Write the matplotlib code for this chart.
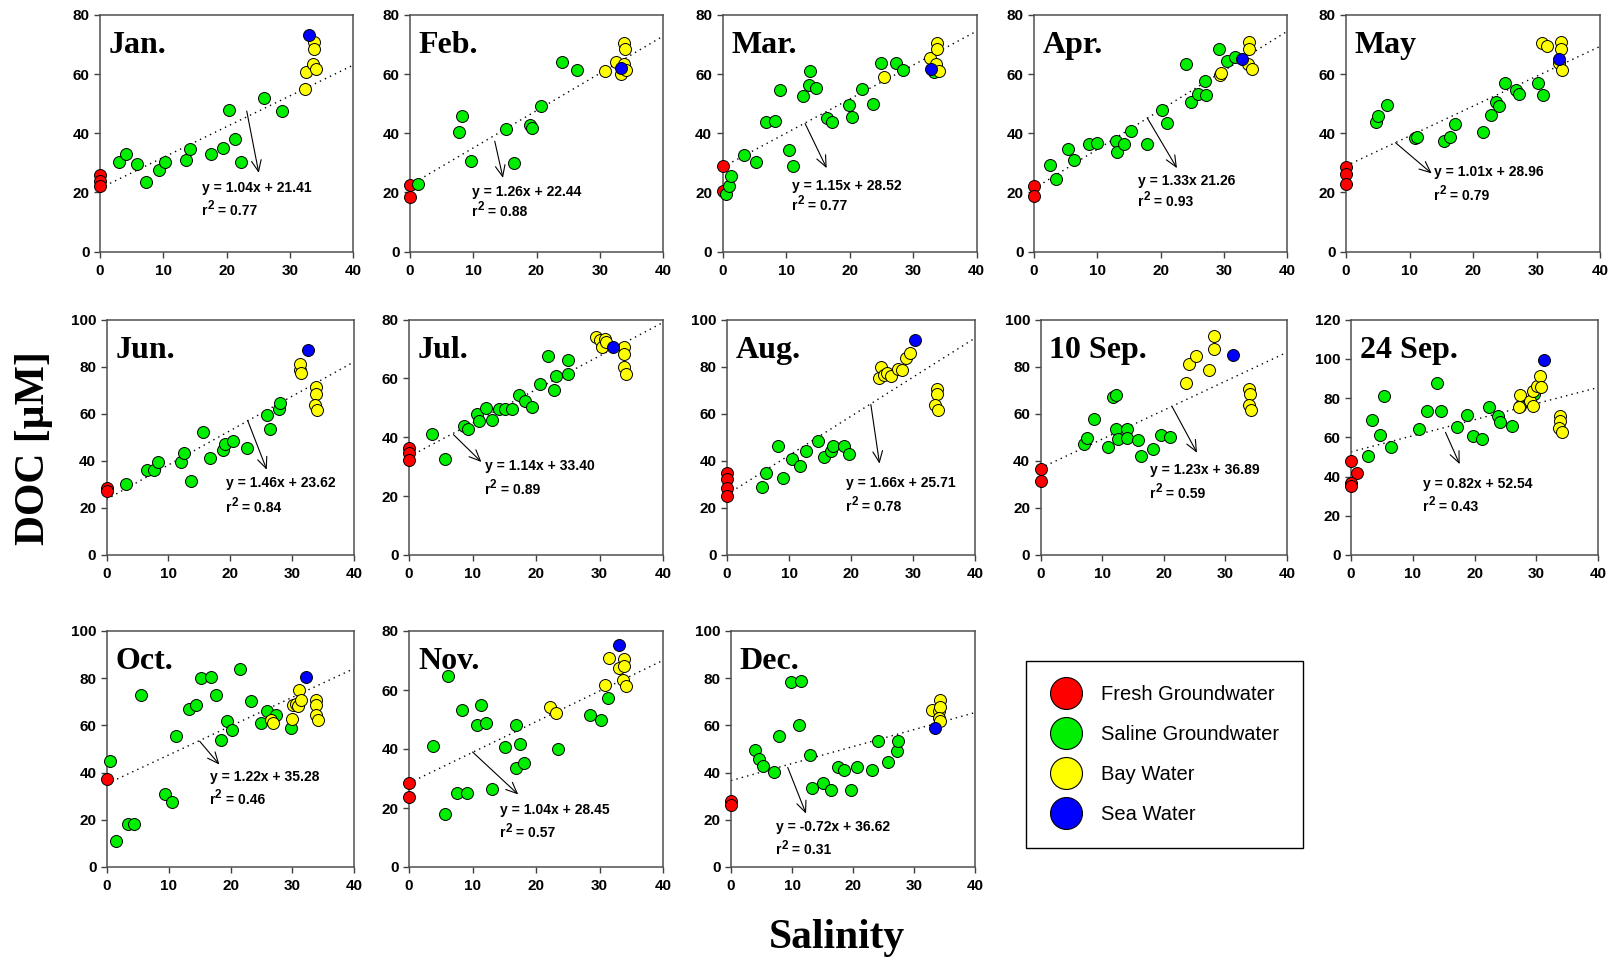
import numpy as np
import matplotlib.pyplot as plt
from matplotlib.lines import Line2D
from matplotlib.transforms import offset_copy

plt.rcParams['font.family'] = ['Liberation Sans', 'DejaVu Sans']

# (salinity, DOC) pairs for each water type and sampling date
jan_fresh = [(0, 26.0), (0, 23.7), (0, 22.0)]
jan_saline = [(3.0, 30.3), (4.1, 33.0), (5.9, 29.6), (7.3, 23.5), (9.3, 27.7), (10.2, 30.2),
              (13.6, 31.1), (14.3, 34.6), (17.5, 33.1), (19.4, 35.0), (20.4, 48.0), (21.4, 38.1),
              (22.3, 30.2), (26.0, 51.8), (28.8, 47.6)]
jan_bay = [(32.4, 55.1), (32.5, 60.7), (33.7, 63.3), (33.8, 70.7), (33.9, 68.4), (34.2, 61.6)]
jan_sea = [(33.0, 73.4)]

feb_fresh = [(0, 22.4), (0, 18.6)]
feb_saline = [(1.2, 22.8), (7.7, 40.3), (8.3, 46.0), (9.7, 30.5), (15.1, 41.5), (16.4, 29.9),
              (18.9, 42.9), (19.3, 41.9), (20.7, 49.2), (24.1, 64.2), (26.4, 61.4)]
feb_bay = [(30.8, 61.0), (32.5, 64.2), (33.4, 59.9), (33.8, 63.3), (33.9, 70.6), (34.0, 68.4), (34.2, 61.4)]
feb_sea = [(33.4, 62.1)]

mar_fresh = [(0, 28.8), (0, 20.3)]
mar_saline = [(0.5, 19.4), (1.0, 22.3), (1.4, 25.6), (3.4, 32.5), (5.3, 30.3), (6.8, 43.8),
              (8.3, 44.1), (9.0, 54.6), (10.4, 34.2), (11.1, 29.0), (12.7, 52.5), (13.6, 56.2),
              (13.8, 61.2), (14.7, 55.4), (16.5, 45.0), (17.2, 43.8), (19.9, 49.5), (20.4, 45.5),
              (21.9, 55.1), (23.7, 49.9), (24.9, 63.6), (27.4, 63.6), (28.5, 61.4), (33.3, 60.7)]
mar_bay = [(25.4, 59.0), (32.7, 65.5), (33.7, 63.3), (33.8, 70.6), (33.8, 68.4), (34.1, 61.2)]
mar_sea = [(32.8, 61.8)]

apr_fresh = [(0, 22.3), (0, 18.9)]
apr_saline = [(2.5, 29.4), (3.4, 24.6), (5.4, 34.7), (6.4, 31.1), (8.7, 36.4), (9.9, 36.7),
              (12.9, 37.5), (13.1, 33.6), (14.3, 36.5), (15.4, 40.7), (17.8, 36.5), (20.2, 47.8),
              (21.1, 43.3), (24.1, 63.3), (24.9, 50.6), (25.9, 53.3), (27.1, 57.6), (27.2, 53.1),
              (29.2, 68.6), (30.5, 64.6), (31.8, 65.8)]
apr_bay = [(29.4, 59.8), (29.6, 60.3), (33.8, 63.3), (34.0, 70.8), (34.0, 68.4), (34.4, 61.6)]
apr_sea = [(32.9, 65.2)]

may_fresh = [(0, 28.6), (0, 26.1), (0, 22.7)]
may_saline = [(4.8, 43.8), (5.0, 45.8), (6.5, 49.4), (10.9, 38.5), (11.2, 38.7), (15.5, 37.4),
              (16.3, 38.6), (17.2, 43.2), (21.5, 40.5), (22.9, 46.3), (23.7, 50.7), (24.1, 49.1),
              (25.1, 56.9), (26.8, 54.6), (27.2, 53.2), (30.2, 57.1), (31.0, 52.8)]
may_bay = [(30.9, 70.4), (31.6, 69.5), (33.9, 70.7), (33.9, 68.4), (33.6, 63.6), (34.0, 61.4)]
may_sea = [(33.6, 65.0)]

jun_fresh = [(0, 28.5), (0, 27.0)]
jun_saline = [(3.2, 30.2), (6.6, 36.2), (7.7, 36.2), (8.4, 39.3), (12.0, 39.7), (12.6, 43.5),
              (13.7, 31.6), (15.6, 52.1), (16.7, 41.1), (18.9, 44.7), (19.1, 47.1), (20.5, 48.2),
              (22.7, 45.4), (26.0, 59.6), (26.5, 53.5), (27.8, 62.0), (28.1, 64.5)]
jun_bay = [(31.2, 78.7), (31.3, 81.3), (31.4, 77.3), (33.8, 71.2), (33.9, 68.5), (33.7, 63.8), (34.1, 61.7)]
jun_sea = [(32.5, 87.2)]

jul_fresh = [(0, 36.5), (0, 34.7), (0, 32.2)]
jul_saline = [(3.7, 41.2), (5.7, 32.5), (8.7, 43.8), (9.3, 42.7), (10.7, 48.0), (11.1, 45.6),
              (12.1, 50.0), (13.0, 45.8), (14.1, 49.7), (15.1, 49.5), (16.2, 49.5), (17.3, 54.5),
              (18.3, 52.2), (19.4, 50.3), (20.6, 58.2), (21.9, 67.5), (22.8, 55.9), (23.2, 60.7),
              (25.0, 61.6), (25.1, 66.4)]
jul_bay = [(29.5, 74.2), (30.0, 73.1), (30.4, 70.6), (30.9, 73.4), (31.1, 72.3), (33.9, 70.6),
           (33.9, 68.4), (33.8, 63.8), (34.1, 61.6)]
jul_sea = [(32.1, 70.8)]

aug_fresh = [(0, 34.9), (0, 32.1), (0, 28.6), (0, 25.0)]
aug_saline = [(5.6, 29.0), (6.3, 34.9), (8.3, 46.3), (9.0, 32.8), (10.5, 40.9), (11.8, 37.8),
              (12.8, 44.1), (14.6, 48.4), (15.6, 41.6), (16.8, 44.1), (17.1, 46.3), (18.8, 46.3),
              (19.6, 42.7)]
aug_bay = [(24.5, 75.0), (24.8, 79.8), (25.3, 76.4), (25.8, 77.4), (26.4, 76.0), (27.6, 78.8),
           (28.3, 78.4), (28.8, 83.7), (29.5, 85.6), (33.8, 70.6), (33.8, 68.2), (33.5, 63.5), (34.0, 61.4)]
aug_sea = [(30.4, 91.2)]

sep10_fresh = [(0, 36.6), (0, 31.4)]
sep10_saline = [(7.0, 47.2), (7.5, 49.5), (8.7, 57.6), (10.9, 45.8), (11.7, 67.2), (12.3, 67.9),
                (12.2, 53.7), (12.6, 49.1), (14.0, 53.7), (14.1, 49.5), (15.8, 48.7), (16.3, 42.0),
                (18.3, 45.1), (19.6, 50.9), (21.0, 50.2)]
sep10_bay = [(23.6, 73.1), (24.1, 81.2), (25.2, 84.7), (27.3, 78.4), (28.2, 92.9), (28.2, 87.3),
             (33.9, 70.7), (34.0, 68.5), (33.8, 63.9), (34.2, 61.4)]
sep10_sea = [(31.2, 85.1)]

sep24_fresh = [(0, 48.0), (1.0, 41.7), (0, 36.6), (0, 35.4)]
sep24_saline = [(2.8, 50.2), (3.4, 68.6), (4.7, 61.3), (5.4, 80.9), (6.5, 55.0), (11.0, 64.2),
                (12.3, 73.5), (13.9, 87.5), (14.6, 73.5), (17.1, 65.2), (18.8, 71.5), (19.7, 60.8),
                (21.2, 59.1), (22.4, 75.4), (23.8, 71.0), (24.1, 67.7), (26.0, 65.5), (27.4, 75.7),
                (29.6, 82.0)]
sep24_bay = [(27.2, 75.4), (27.4, 81.4), (29.0, 78.3), (29.5, 75.7), (29.5, 83.7), (30.1, 86.0),
             (30.6, 91.4), (30.7, 85.4), (33.8, 71.0), (33.9, 68.4), (33.7, 64.7), (34.1, 62.5)]
sep24_sea = [(31.2, 99.2)]

oct_fresh = [(0, 37.1)]
oct_saline = [(0.5, 45.1), (1.4, 11.2), (3.4, 18.4), (4.4, 18.4), (5.5, 73.0), (9.4, 31.1),
              (10.5, 27.6), (11.1, 55.7), (13.2, 66.8), (14.4, 68.5), (15.2, 80.2), (16.8, 80.5),
              (17.6, 73.0), (18.5, 53.7), (19.4, 61.8), (20.3, 58.0), (21.5, 83.7), (23.3, 70.3),
              (24.9, 61.1), (25.9, 66.3), (27.4, 64.2), (29.8, 59.0)]
oct_bay = [(26.6, 62.1), (26.9, 61.1), (30.0, 62.9), (30.2, 68.5), (30.6, 68.9), (30.9, 68.2),
           (31.1, 75.2), (31.4, 70.6), (33.9, 70.6), (33.9, 68.5), (33.8, 64.4), (34.1, 62.1)]
oct_sea = [(32.2, 80.6)]

nov_fresh = [(0, 28.5), (0, 23.7)]
nov_saline = [(3.8, 40.9), (5.6, 17.8), (6.2, 64.6), (7.6, 25.1), (8.3, 53.3), (9.1, 25.1),
              (10.7, 48.0), (11.4, 55.0), (12.1, 48.8), (13.0, 26.6), (15.1, 40.6), (16.9, 48.2),
              (16.9, 33.4), (17.5, 41.8), (18.1, 35.3), (23.5, 40.0), (28.5, 51.6), (30.2, 49.9),
              (31.4, 57.2)]
nov_bay = [(22.2, 54.4), (23.2, 52.2), (30.9, 61.7), (31.5, 71.0), (33.1, 67.6), (33.9, 70.4),
           (33.9, 68.2), (33.7, 63.4), (34.1, 61.4)]
nov_sea = [(33.1, 75.3)]

dec_fresh = [(0, 28.0), (0, 26.3)]
dec_saline = [(3.9, 49.6), (4.6, 45.7), (5.2, 43.0), (7.1, 40.4), (7.9, 55.7), (9.8, 78.3),
              (11.5, 78.7), (11.1, 60.0), (12.9, 47.4), (13.2, 33.5), (15.0, 35.7), (16.4, 32.6),
              (17.6, 42.2), (18.6, 41.3), (19.6, 32.6), (20.6, 42.2), (23.1, 40.9), (24.1, 53.5),
              (25.7, 44.3), (27.2, 49.1), (27.3, 53.5)]
dec_bay = [(32.9, 66.5), (34.1, 66.1), (34.3, 70.9), (34.3, 67.8), (34.1, 63.0), (34.3, 61.7)]
dec_sea = [(33.4, 58.7)]

months = ['Jan.', 'Feb.', 'Mar.', 'Apr.', 'May', 'Jun.', 'Jul.', 'Aug.',
          '10 Sep.', '24 Sep.', 'Oct.', 'Nov.', 'Dec.']
fresh = [jan_fresh, feb_fresh, mar_fresh, apr_fresh, may_fresh, jun_fresh, jul_fresh,
         aug_fresh, sep10_fresh, sep24_fresh, oct_fresh, nov_fresh, dec_fresh]
saline = [jan_saline, feb_saline, mar_saline, apr_saline, may_saline, jun_saline, jul_saline,
          aug_saline, sep10_saline, sep24_saline, oct_saline, nov_saline, dec_saline]
bay = [jan_bay, feb_bay, mar_bay, apr_bay, may_bay, jun_bay, jul_bay,
       aug_bay, sep10_bay, sep24_bay, oct_bay, nov_bay, dec_bay]
sea = [jan_sea, feb_sea, mar_sea, apr_sea, may_sea, jun_sea, jul_sea,
       aug_sea, sep10_sea, sep24_sea, oct_sea, nov_sea, dec_sea]

# regression lines
slopes = [1.04, 1.26, 1.15, 1.33, 1.01, 1.46, 1.14, 1.66, 1.23, 0.82, 1.22, 1.04, 0.72]
intercepts = [21.41, 22.44, 28.52, 21.26, 28.96, 23.62, 33.40, 25.71, 36.89, 52.54, 35.28, 28.45, 36.62]
r2 = [0.77, 0.88, 0.77, 0.93, 0.79, 0.84, 0.89, 0.78, 0.59, 0.43, 0.46, 0.57, 0.31]
eq_labels = ['y = 1.04x + 21.41', 'y = 1.26x + 22.44', 'y = 1.15x + 28.52', 'y = 1.33x 21.26',
             'y = 1.01x + 28.96', 'y = 1.46x + 23.62', 'y = 1.14x + 33.40', 'y = 1.66x + 25.71',
             'y = 1.23x + 36.89', 'y = 0.82x + 52.54', 'y = 1.22x + 35.28', 'y = 1.04x + 28.45',
             'y = -0.72x + 36.62']
y_max = [80, 80, 80, 80, 80, 100, 80, 100, 100, 120, 100, 80, 100]

group_names = ['Fresh Groundwater', 'Saline Groundwater', 'Bay Water', 'Sea Water']
group_colors = ['#ff0000', '#00ee00', '#ffff00', '#0000ff']

# layout: axes boxes in pixels (left, top, right, bottom)
W, H = 1617, 960
boxes = [(100, 15, 353, 251.5), (410, 15, 663, 251.5), (722.5, 15, 976.5, 251.5),
         (1034, 15, 1287, 251.5), (1346, 15, 1600, 251.5),
         (106.5, 319.5, 354, 555), (409, 319.5, 663, 555), (727, 319.5, 975, 555),
         (1040.5, 319.5, 1287, 555), (1351, 319.5, 1598, 555),
         (107, 631, 354, 867), (409, 631, 663, 867), (731, 631, 975, 867)]
# equation text (x, y of first line, y of second line) and arrow (start, end) in data units
eq_pos = [(16.1, 21.5, 13.6), (9.8, 20.1, 13.3), (10.9, 22.0, 15.3), (16.5, 23.7, 16.9),
          (13.8, 26.9, 18.7), (19.3, 30.5, 20.1), (11.9, 30.2, 22.0), (19.2, 30.4, 20.4),
          (17.7, 36.1, 26.0), (11.7, 36.3, 24.3), (16.6, 38.2, 28.6), (14.3, 19.2, 11.4),
          (7.4, 17.0, 7.0)]
arrows = [((23.2, 47.5), (25.1, 26.6)), ((13.4, 37.3), (14.7, 24.9)), ((13.0, 43.3), (16.4, 28.2)),
          ((17.9, 45.2), (22.6, 28.2)), ((7.8, 36.8), (13.5, 26.4)), ((22.8, 57.2), (25.9, 36.2)),
          ((7.0, 40.9), (11.4, 31.6)), ((23.2, 63.9), (24.6, 38.8)), ((21.4, 62.8), (25.4, 43.4)),
          ((15.3, 62.5), (17.6, 46.3)), ((15.0, 53.3), (18.2, 43.4)), ((10.0, 39.0), (17.2, 24.6)),
          ((9.3, 42.2), (12.3, 22.6))]

eq_size = 10
fig = plt.figure(figsize=(W / 100, H / 100), dpi=100)
xs = np.array([0, 40])

for i, name in enumerate(months):
    l, t, r, b = boxes[i]
    ax = fig.add_axes([l / W, 1 - b / H, (r - l) / W, (b - t) / H])

    ax.plot(xs, intercepts[i] + slopes[i] * xs, color='black', ls=(0, (1, 3)), lw=1.0, zorder=1)

    for pts, c in zip([fresh[i], saline[i], bay[i], sea[i]], group_colors):
        p = np.array(pts)
        ax.scatter(p[:, 0], p[:, 1], s=74, c=c, edgecolors='black', linewidths=0.7,
                   zorder=3, clip_on=False)

    ex, ey1, ey2 = eq_pos[i]
    ax.text(ex, ey1, eq_labels[i], fontsize=eq_size, fontweight='bold', va='center', ha='left')
    # r^2 line: "r", a raised "2", then the value
    ax.text(ex, ey2, 'r', fontsize=eq_size, fontweight='bold', va='center', ha='left')
    sup = offset_copy(ax.transData, fig=fig, x=4.0, y=3.5, units='points')
    ax.text(ex, ey2, '2', transform=sup, fontsize=eq_size * 0.85, fontweight='bold',
            va='center', ha='left')
    rest = offset_copy(ax.transData, fig=fig, x=4.0 + eq_size * 0.85 * 0.556, y=0, units='points')
    ax.text(ex, ey2, ' = %.2f' % r2[i], transform=rest, fontsize=eq_size, fontweight='bold',
            va='center', ha='left')

    (ax0, ay0), (ax1, ay1) = arrows[i]
    ax.annotate('', xy=(ax1, ay1), xytext=(ax0, ay0),
                arrowprops=dict(arrowstyle='->,head_length=0.8,head_width=0.35', color='black',
                                lw=0.8, shrinkA=0, shrinkB=0, mutation_scale=10))

    ax.text(0.035, 0.87, name, transform=ax.transAxes, family='Liberation Serif',
            fontweight='bold', fontsize=23, va='center', ha='left')

    ax.set_xlim(0, 40)
    ax.set_ylim(0, y_max[i])
    ax.set_xticks(np.arange(0, 41, 10))
    ax.set_yticks(np.arange(0, y_max[i] + 1, 20))
    ax.tick_params(direction='out', length=4, width=1, color='#404040', labelsize=11)
    ax.tick_params(axis='x', pad=5)
    for lab in ax.get_xticklabels() + ax.get_yticklabels():
        lab.set_fontweight('bold')
    for sp in ax.spines.values():
        sp.set_color('#505050')
        sp.set_linewidth(1.1)

fig.text(34 / W, 1 - 448 / H, 'DOC [µM]', rotation=90, family='Liberation Serif',
         fontweight='bold', fontsize=30, ha='center', va='center')
fig.text(837 / W, 1 - 938 / H, 'Salinity', family='Liberation Serif',
         fontweight='bold', fontsize=30, ha='center', va='center')

handles = [Line2D([], [], ls='none', marker='o', markersize=23, markerfacecolor=c,
                  markeredgecolor='black', markeredgewidth=0.8) for c in group_colors]
leg = fig.legend(handles, group_names, loc='upper left', bbox_to_anchor=(1026 / W, 1 - 661 / H),
                 fontsize=14.5, frameon=True, fancybox=False, edgecolor='black', framealpha=1,
                 borderpad=1.18, labelspacing=1.05, handlelength=1.6, handletextpad=0.95,
                 borderaxespad=0)
leg.get_frame().set_linewidth(1.0)

fig.savefig('out.png', dpi=100)
